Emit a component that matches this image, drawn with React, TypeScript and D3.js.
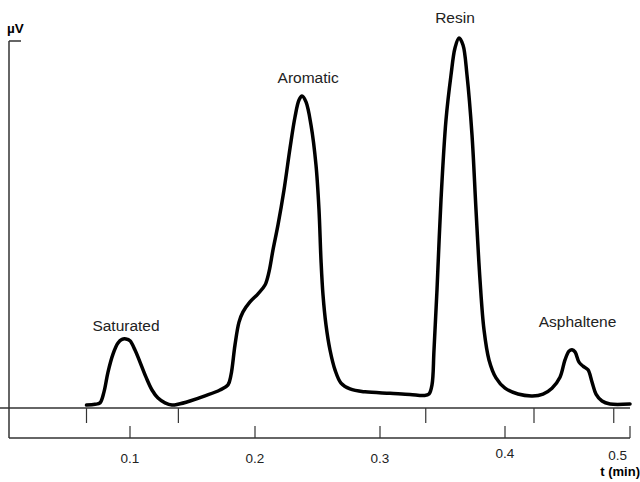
import React from "react";
import * as d3 from "d3";

// Chromatogram trace: time (min) and detector signal (relative µV, axis top = 100)
const times: number[] = [
  0.0652, 0.072, 0.076, 0.0792, 0.0824, 0.0864, 0.0904, 0.0936, 0.0968, 0.1, 0.104, 0.108, 0.1128, 0.1176,
  0.1224, 0.128, 0.1336, 0.1384, 0.148, 0.16, 0.172, 0.1784, 0.1808, 0.184, 0.1872, 0.1904, 0.196, 0.2024,
  0.208, 0.2112, 0.2144, 0.2184, 0.2232, 0.228, 0.232, 0.2352, 0.2376, 0.2408, 0.2448, 0.2488, 0.2512,
  0.2528, 0.2544, 0.2568, 0.26, 0.264, 0.2688, 0.276, 0.288, 0.308, 0.324, 0.3352, 0.3392, 0.3416, 0.3432,
  0.3456, 0.3488, 0.3528, 0.3568, 0.36, 0.3632, 0.3664, 0.3696, 0.3736, 0.3768, 0.38, 0.3832, 0.3872,
  0.3928, 0.4, 0.4104, 0.422, 0.4304, 0.4376, 0.444, 0.448, 0.4512, 0.4536, 0.456, 0.4592, 0.4624, 0.4664,
  0.4696, 0.4728, 0.4776, 0.484, 0.5,
];
const signal: number[] = [
  0.8, 1.0, 1.4, 4.4, 9.8, 14.7, 17.7, 18.7, 18.8, 18.3, 15.8, 12.5, 8.4, 4.9,
  2.7, 1.4, 0.8, 1.0, 1.9, 3.3, 4.9, 6.3, 9.0, 17.2, 23.4, 26.2, 28.9, 31.1,
  33.5, 37.1, 43.1, 49.9, 59.4, 70.8, 79.3, 83.9, 85.0, 83.4, 77.1, 66.2, 54.0,
  40.3, 30.8, 22.6, 15.8, 10.4, 6.8, 5.2, 4.4, 4.0, 3.7, 3.4, 3.8, 6.3, 15.8,
  32.2, 56.7, 78.5, 90.7, 98.1, 100.8, 98.9, 90.7, 74.4, 54.0, 34.9, 21.3, 13.1,
  8.2, 5.4, 3.8, 3.3, 3.8, 5.4, 8.4, 13.1, 15.5, 15.9, 15.3, 12.5, 11.4, 10.4,
  7.1, 3.8, 1.9, 1.1, 1.1,
];

const tickValues: number[] = [0.1, 0.2, 0.3, 0.4, 0.5];
const tickLabels: string[] = ["0.1", "0.2", "0.3", "0.4", "0.5"];
const boundaryTimes: number[] = [0.0652, 0.1387, 0.3366, 0.4232, 0.487];

const peakNames: string[] = ["Saturated", "Aromatic", "Resin", "Asphaltene"];
const peakTimes: number[] = [0.0968, 0.2425, 0.3600, 0.4580];
const peakLabelValues: number[] = [21, 88.5, 105, 22];

const W = 640;
const H = 482;

export default function App() {
  const x = d3.scaleLinear().domain([0, 0.5]).range([5, 630]);
  const y = d3.scaleLinear().domain([0, 100]).range([408, 41]);
  const baseY = y(0);
  const axisY = 438;
  const axisX = 9;

  const pts: [number, number][] = times.map((t, i) => [t, signal[i]]);
  const line = d3
    .line<[number, number]>()
    .x((d) => x(d[0]))
    .y((d) => y(d[1]))
    .curve(d3.curveCatmullRom.alpha(0.5));

  const font = "Liberation Sans, Arial, sans-serif";
  const axisColor = "#333";

  return (
    <svg
      width={W}
      height={H}
      style={{ position: "absolute", left: 0, top: 0, background: "#fff" }}
      fontFamily={font}
    >
      {/* y axis */}
      <line x1={axisX} y1={y(100)} x2={axisX} y2={axisY} stroke={axisColor} strokeWidth={1.5} />
      <line x1={axisX} y1={y(100)} x2={axisX + 12} y2={y(100)} stroke={axisColor} strokeWidth={1.5} />
      <text x={7} y={33} fontSize={13.5} fontWeight="bold" fill="#000">µV</text>

      {/* baseline */}
      <line x1={0} y1={baseY} x2={x(0.5)} y2={baseY} stroke={axisColor} strokeWidth={1.5} />
      {boundaryTimes.map((t, i) => (
        <line key={"b" + i} x1={x(t)} y1={baseY} x2={x(t)} y2={baseY + 15} stroke={axisColor} strokeWidth={1.2} />
      ))}

      {/* x axis */}
      <line x1={axisX} y1={axisY} x2={x(0.5)} y2={axisY} stroke={axisColor} strokeWidth={1.5} />
      {tickValues.map((t, i) => (
        <g key={"t" + i}>
          <line x1={x(t)} y1={axisY} x2={x(t)} y2={axisY - 12} stroke={axisColor} strokeWidth={1.2} />
          <text
            x={i === tickValues.length - 1 ? x(t) - 3 : x(t)}
            y={i === 3 ? 458 : i === tickValues.length - 1 ? 460 : 463}
            fontSize={13.5}
            textAnchor={i === tickValues.length - 1 ? "end" : "middle"}
            fill="#222"
          >
            {tickLabels[i]}
          </text>
        </g>
      ))}
      <text x={640} y={476} fontSize={13} fontWeight="bold" textAnchor="end" fill="#000">t (min)</text>

      {/* trace */}
      <path d={line(pts) || ""} fill="none" stroke="#000" strokeWidth={3.5} strokeLinejoin="round" strokeLinecap="round" />

      {/* peak labels */}
      {peakNames.map((n, i) => (
        <text key={n} x={x(peakTimes[i])} y={y(peakLabelValues[i])} fontSize={15.5} textAnchor="middle" fill="#222">
          {n}
        </text>
      ))}
    </svg>
  );
}
